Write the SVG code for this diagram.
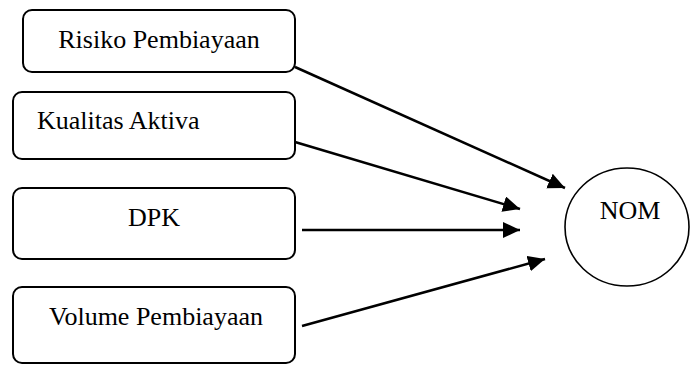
<svg xmlns="http://www.w3.org/2000/svg" width="690" height="365" viewBox="0 0 690 365">
<style>
.box{fill:#fff;stroke:#000;stroke-width:2}
.lbl{font-family:"Liberation Serif","Times New Roman",serif;font-size:26px;fill:#000}
.c{text-anchor:middle}
.edge{stroke:#000;stroke-width:2.5;fill:none;marker-end:url(#arr)}
</style>
<defs>
<marker id="arr" markerUnits="userSpaceOnUse" markerWidth="20" markerHeight="18" refX="17" refY="8" orient="auto">
<path d="M0,0 L17,8 L0,16 Z" fill="#000"/>
</marker>
</defs>
<rect width="690" height="365" fill="#fff"/>
<g id="risiko">
<rect class="box" x="23" y="10" width="272" height="62" rx="9"/>
<text class="lbl c" x="159" y="48">Risiko Pembiayaan</text>
</g>
<g id="kualitas">
<rect class="box" x="13" y="92" width="282" height="67" rx="9"/>
<text class="lbl" x="37" y="129">Kualitas Aktiva</text>
</g>
<g id="dpk">
<rect class="box" x="13" y="188" width="282" height="71" rx="9"/>
<text class="lbl c" x="154" y="226">DPK</text>
</g>
<g id="volume">
<rect class="box" x="13" y="287" width="282" height="76" rx="9"/>
<text class="lbl c" x="156" y="325">Volume Pembiayaan</text>
</g>
<g id="nom">
<ellipse cx="627" cy="227" rx="62" ry="59" fill="#fff" stroke="#000" stroke-width="1.6"/>
<text class="lbl c" x="630" y="219">NOM</text>
</g>
<g id="connectors">
<line class="edge" x1="295" y1="67" x2="565" y2="188"/>
<line class="edge" x1="295" y1="142" x2="520" y2="209"/>
<line class="edge" x1="302" y1="230" x2="520" y2="230"/>
<line class="edge" x1="302" y1="326" x2="545" y2="259"/>
</g>
</svg>
